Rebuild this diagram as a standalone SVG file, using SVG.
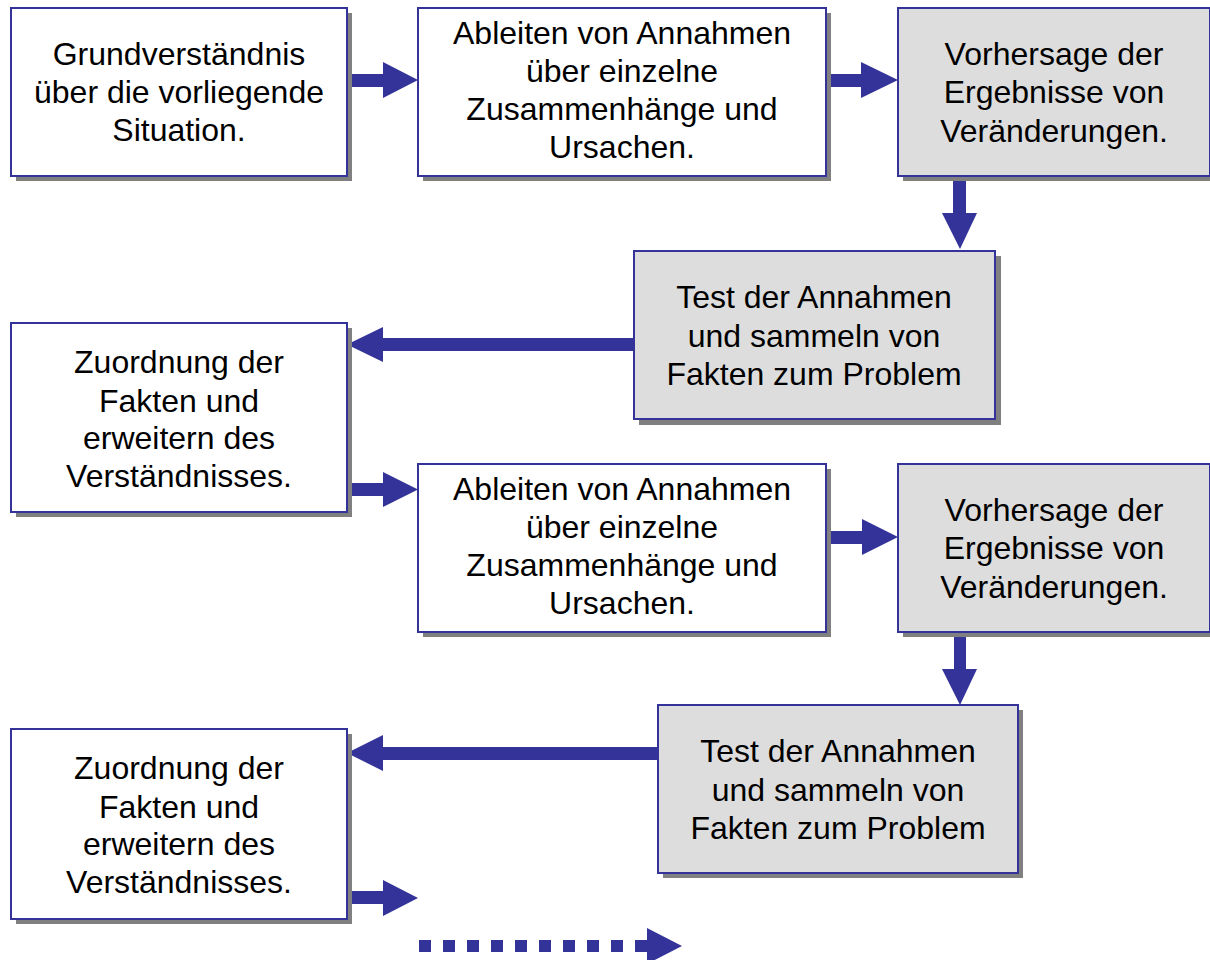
<svg xmlns="http://www.w3.org/2000/svg" width="1210" height="960" viewBox="0 0 1210 960">
<style>
.sh{fill:#808080}
.bx{stroke:#333399;stroke-width:2}
.w{fill:#FFFFFF}
.g{fill:#DDDDDD}
.t{font-family:"Liberation Sans",Arial,sans-serif;font-size:32px;fill:#000;text-anchor:middle}
.ar{fill:#333399}
</style>
<rect width="1210" height="960" fill="#FFFFFF"/>
<g id="connectors">
<polygon class="ar" points="347,74 383,74 383,62 418,80 383,98 383,87 347,87"/>
<polygon class="ar" points="826,74 861,74 861,62 898,80 861,98 861,87 826,87"/>
<polygon class="ar" points="953,176 966,176 966,213 977,213 960,249 942,213 953,213"/>
<polygon class="ar" points="634,338 383,338 383,327 347,344.5 383,362 383,351 634,351"/>
<polygon class="ar" points="347,483 383,483 383,472 418,489.5 383,507 383,496 347,496"/>
<polygon class="ar" points="826,531 862,531 862,519 898,537 862,555 862,544 826,544"/>
<polygon class="ar" points="954,632 966,632 966,669 977,669 960,705 942,669 954,669"/>
<polygon class="ar" points="658,747 383,747 383,735 347,753 383,771 383,760 658,760"/>
<polygon class="ar" points="347,891 383,891 383,880 418,898 383,916 383,904 347,904"/>
<g id="dotted">
<rect class="ar" x="419" y="940" width="12" height="12"/>
<rect class="ar" x="443" y="940" width="12" height="12"/>
<rect class="ar" x="467" y="940" width="12" height="12"/>
<rect class="ar" x="491" y="940" width="12" height="12"/>
<rect class="ar" x="515" y="940" width="12" height="12"/>
<rect class="ar" x="539" y="940" width="12" height="12"/>
<rect class="ar" x="563" y="940" width="12" height="12"/>
<rect class="ar" x="587" y="940" width="12" height="12"/>
<rect class="ar" x="611" y="940" width="12" height="12"/>
<polygon class="ar" points="635,940 647,940 647,928 682,946 647,964 647,952 635,952"/>
</g>
</g>
<g id="n1">
<rect class="sh" x="16" y="13" width="336" height="168"/>
<rect class="bx w" x="11" y="8" width="336" height="168"/>
<text class="t" x="179" y="65">Grundverständnis</text>
<text class="t" x="179" y="103">über die vorliegende</text>
<text class="t" x="179" y="141">Situation.</text>
</g>
<g id="n2">
<rect class="sh" x="423" y="13" width="408" height="168"/>
<rect class="bx w" x="418" y="8" width="408" height="168"/>
<text class="t" x="622" y="44">Ableiten von Annahmen</text>
<text class="t" x="622" y="82">über einzelne</text>
<text class="t" x="622" y="120">Zusammenhänge und</text>
<text class="t" x="622" y="158">Ursachen.</text>
</g>
<g id="n3">
<rect class="sh" x="903" y="13" width="312" height="168"/>
<rect class="bx g" x="898" y="8" width="312" height="168"/>
<text class="t" x="1054" y="65">Vorhersage der</text>
<text class="t" x="1054" y="103">Ergebnisse von</text>
<text class="t" x="1054" y="142">Veränderungen.</text>
</g>
<g id="n4">
<rect class="sh" x="639" y="256" width="362" height="169"/>
<rect class="bx g" x="634" y="251" width="361" height="168"/>
<text class="t" x="814" y="308">Test der Annahmen</text>
<text class="t" x="814" y="347">und sammeln von</text>
<text class="t" x="814" y="385">Fakten zum Problem</text>
</g>
<g id="n5">
<rect class="sh" x="16" y="328" width="336" height="189"/>
<rect class="bx w" x="11" y="323" width="336" height="189"/>
<text class="t" x="179" y="373">Zuordnung der</text>
<text class="t" x="179" y="412">Fakten und</text>
<text class="t" x="179" y="449">erweitern des</text>
<text class="t" x="179" y="487">Verständnisses.</text>
</g>
<g id="n6">
<rect class="sh" x="423" y="469" width="408" height="168"/>
<rect class="bx w" x="418" y="464" width="408" height="168"/>
<text class="t" x="622" y="500">Ableiten von Annahmen</text>
<text class="t" x="622" y="538">über einzelne</text>
<text class="t" x="622" y="576">Zusammenhänge und</text>
<text class="t" x="622" y="614">Ursachen.</text>
</g>
<g id="n7">
<rect class="sh" x="903" y="469" width="312" height="168"/>
<rect class="bx g" x="898" y="464" width="312" height="168"/>
<text class="t" x="1054" y="521">Vorhersage der</text>
<text class="t" x="1054" y="559">Ergebnisse von</text>
<text class="t" x="1054" y="598">Veränderungen.</text>
</g>
<g id="n8">
<rect class="sh" x="663" y="710" width="360" height="168"/>
<rect class="bx g" x="658" y="705" width="360" height="168"/>
<text class="t" x="838" y="762">Test der Annahmen</text>
<text class="t" x="838" y="801">und sammeln von</text>
<text class="t" x="838" y="839">Fakten zum Problem</text>
</g>
<g id="n9">
<rect class="sh" x="16" y="734" width="336" height="190"/>
<rect class="bx w" x="11" y="729" width="336" height="190"/>
<text class="t" x="179" y="779">Zuordnung der</text>
<text class="t" x="179" y="818">Fakten und</text>
<text class="t" x="179" y="855">erweitern des</text>
<text class="t" x="179" y="893">Verständnisses.</text>
</g>
</svg>
